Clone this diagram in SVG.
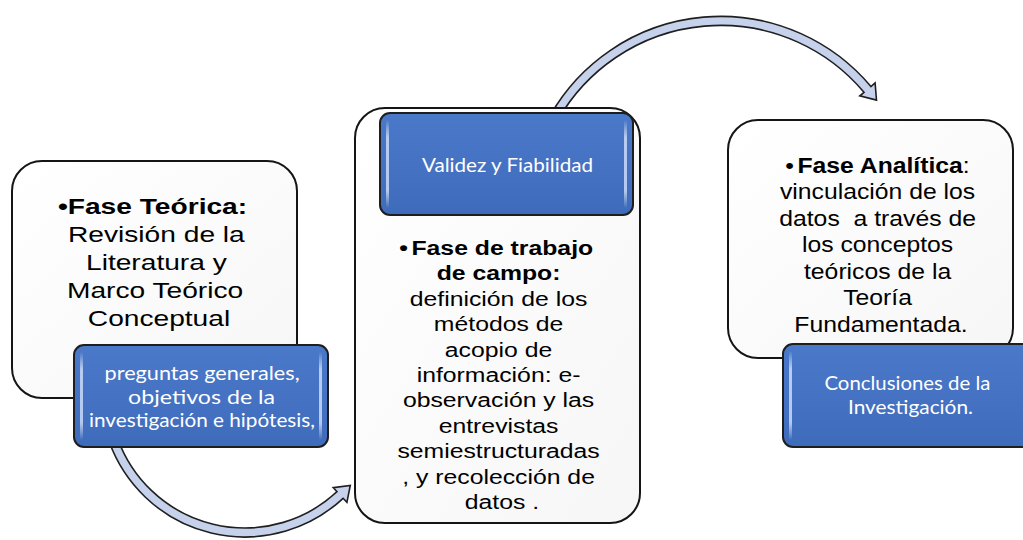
<svg xmlns="http://www.w3.org/2000/svg" width="1023" height="540" viewBox="0 0 1023 540">
  <defs>
    <linearGradient id="blueFill" x1="0" y1="0" x2="0" y2="1">
      <stop offset="0" stop-color="#4b79ca"/>
      <stop offset="1" stop-color="#3f6bbb"/>
    </linearGradient>
    <linearGradient id="gloss" x1="0" y1="0" x2="0" y2="1">
      <stop offset="0" stop-color="#ffffff" stop-opacity="0"/>
      <stop offset="0.2" stop-color="#dbe8ff" stop-opacity="0.75"/>
      <stop offset="0.8" stop-color="#dbe8ff" stop-opacity="0.75"/>
      <stop offset="1" stop-color="#ffffff" stop-opacity="0"/>
    </linearGradient>
    <linearGradient id="whiteFill" x1="0" y1="0" x2="1" y2="1">
      <stop offset="0" stop-color="#ffffff"/>
      <stop offset="1" stop-color="#f6f6f6"/>
    </linearGradient>
  </defs>
  <style>
    .box { fill: url(#whiteFill); stroke: #151515; stroke-width: 2; }
    .blue { fill: url(#blueFill); stroke: #1e1e1e; stroke-width: 2; }
    .gl { fill: url(#gloss); }
    .arrow { fill: #c6d2ec; stroke: #1f1f1f; stroke-width: 1.6; stroke-linejoin: miter; }
    .t { font-family: "Liberation Sans", Arial, sans-serif; fill: #000; text-anchor: middle; }
    .b { font-weight: bold; }
    .w { font-family: Lato, "Open Sans", sans-serif; fill: #ffffff; text-anchor: middle; }
  </style>

  <g id="connectors">
    <path class="arrow" d="M 109.3 442.1 A 144.2 144.2 0 0 0 343.1 498.3 L 346.9 502.3 L 350.3 485.5 L 333.3 487.7 L 337.0 491.7 A 135.2 135.2 0 0 1 117.8 439.0 Z"/>
    <path class="arrow" d="M 550.7 114.5 A 196.2 196.2 0 0 1 870.9 86.5 L 875.1 82.9 L 876.5 100.1 L 859.8 95.8 L 864.0 92.3 A 187.2 187.2 0 0 0 558.5 119.0 Z"/>
  </g>

  <g id="node-fase-teorica">
    <rect class="box" x="12" y="161" width="285" height="237" rx="30"/>
    <text class="t" font-size="22" transform="matrix(1.28 0 0 1 159 0)">
      <tspan class="b" x="-2" y="214">•Fase Teórica:</tspan>
      <tspan x="1" y="242">Revisión de la</tspan>
      <tspan x="1" y="270">Literatura y</tspan>
      <tspan x="0" y="298">Marco Teórico</tspan>
      <tspan x="0" y="326">Conceptual</tspan>
    </text>
  </g>

  <g id="node-preguntas">
    <rect class="blue" x="74" y="345" width="254" height="102" rx="10"/>
    <rect class="gl" x="80" y="352" width="3" height="88" rx="1.5"/>
    <rect class="gl" x="319" y="352" width="3" height="88" rx="1.5"/>
    <text class="w" font-size="19">
      <tspan x="204.5" y="380" textLength="195" lengthAdjust="spacingAndGlyphs">preguntas generales,</tspan>
      <tspan x="204" y="403.5" textLength="147" lengthAdjust="spacingAndGlyphs">objetivos de la</tspan>
      <tspan x="202" y="427" textLength="226" lengthAdjust="spacingAndGlyphs">investigación e hipótesis,</tspan>
    </text>
  </g>

  <g id="node-fase-campo">
    <rect class="box" x="355" y="108" width="285" height="415" rx="30"/>
    <text class="t" font-size="21" transform="matrix(1.18 0 0 1 502 0)">
      <tspan class="b" x="-2" y="255">•<tspan dx="3">Fase de trabajo</tspan></tspan>
      <tspan class="b" x="0" y="280.4">de campo:</tspan>
      <tspan x="0" y="305.8">definición de los</tspan>
      <tspan x="0" y="331.2">métodos de</tspan>
      <tspan x="0" y="356.6">acopio de</tspan>
      <tspan x="0" y="382">información: e-</tspan>
      <tspan x="0" y="407.4">observación y las</tspan>
      <tspan x="0" y="432.8">entrevistas</tspan>
      <tspan x="0" y="458.2">semiestructuradas</tspan>
      <tspan x="0" y="483.6">, y recolección de</tspan>
      <tspan x="0" y="509">datos .</tspan>
    </text>
  </g>

  <g id="node-validez">
    <rect class="blue" x="380" y="113" width="253" height="102" rx="10"/>
    <rect class="gl" x="386" y="120" width="3" height="88" rx="1.5"/>
    <rect class="gl" x="624" y="120" width="3" height="88" rx="1.5"/>
    <text class="w" font-size="20" x="507.5" y="172" textLength="171" lengthAdjust="spacingAndGlyphs">Validez y Fiabilidad</text>
  </g>

  <g id="node-fase-analitica">
    <rect class="box" x="728" y="120" width="285" height="238" rx="30"/>
    <text class="t" font-size="22" transform="matrix(1.125 0 0 1 881 0)">
      <tspan x="0" y="173">•<tspan class="b" dx="3">Fase Analítica</tspan>:</tspan>
      <tspan x="0" y="199.5">vinculación de los</tspan>
      <tspan x="0" y="226">datos&#160; a través de</tspan>
      <tspan x="0" y="252.5">los conceptos</tspan>
      <tspan x="0" y="279">teóricos de la</tspan>
      <tspan x="0" y="305.5">Teoría</tspan>
      <tspan x="0" y="332">Fundamentada.</tspan>
    </text>
  </g>

  <g id="node-conclusiones">
    <rect class="blue" x="783" y="344" width="254" height="103" rx="10"/>
    <rect class="gl" x="789" y="351" width="3" height="89" rx="1.5"/>
    <text class="w" font-size="20">
      <tspan x="910" y="390" textLength="166" lengthAdjust="spacingAndGlyphs">Conclusiones de la</tspan>
      <tspan x="910.5" y="414" textLength="125" lengthAdjust="spacingAndGlyphs">Investigación.</tspan>
    </text>
  </g>
</svg>
